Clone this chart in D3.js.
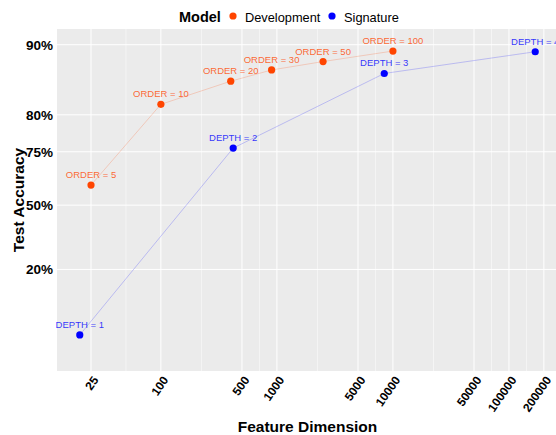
<!DOCTYPE html>
<html>
<head>
<meta charset="utf-8">
<script src="https://cdn.jsdelivr.net/npm/d3@7"></script>
<style>
  body { margin: 0; background: #fff; }
  svg { display: block; font-family: "Liberation Sans", Arial, sans-serif; }
</style>
</head>
<body>
<svg></svg>
<script>
// development model: signature order, feature dimension, accuracy
const devOrder = [5, 10, 20, 30, 50, 100];
const devDim = [25, 100, 400, 900, 2500, 10000];
const devAcc = [0.594, 0.815, 0.848, 0.864, 0.876, 0.891];

// signature model: depth, feature dimension, accuracy
const sigDepth = [1, 2, 3, 4];
const sigDim = [20, 420, 8420, 168420];
const sigAcc = [0.071, 0.755, 0.859, 0.890];

const xTicks = [25, 100, 500, 1000, 5000, 10000, 50000, 100000, 200000];
const yTicks = [0.2, 0.5, 0.75, 0.8, 0.9];
const yTickLabels = ["20%", "50%", "75%", "80%", "90%"];

const models = ["Development", "Signature"];
const modelColors = ["#FF4500", "#0000FF"];

function main() {
    const width = 556, height = 435;
    const left = 57, top = 29, right = 558, bottom = 371;
    const ph = bottom - top;

    const svg = d3.select("svg").attr("width", width).attr("height", height);

    // log x with 5% expansion like ggplot
    const allDim = devDim.concat(sigDim);
    const lo = Math.log10(d3.min(allDim)), hi = Math.log10(d3.max(allDim));
    const pad = (hi - lo) * 0.05;
    const x = d3.scaleLog()
        .domain([Math.pow(10, lo - pad), Math.pow(10, hi + pad)])
        .range([left, right]);

    // y axis uses uneven breaks, so a piecewise scale
    const yBreaks = [0].concat(yTicks);
    const yFrac = [0, 0.297, 0.485, 0.641, 0.749, 0.954];
    const y = d3.scaleLinear()
        .domain(yBreaks)
        .range(yFrac.map(f => bottom - f * ph));

    svg.append("rect")
        .attr("x", left).attr("y", top)
        .attr("width", right - left).attr("height", ph)
        .attr("fill", "#EBEBEB");

    // minor grid: midpoints between majors in log space
    const minor = [];
    for (let i = 0; i < xTicks.length - 1; i++) {
        minor.push(Math.sqrt(xTicks[i] * xTicks[i + 1]));
    }
    svg.append("g").selectAll("line").data(minor).join("line")
        .attr("x1", d => x(d)).attr("x2", d => x(d))
        .attr("y1", top).attr("y2", bottom)
        .attr("stroke", "#fff").attr("stroke-width", 0.5);

    svg.append("g").selectAll("line").data(xTicks).join("line")
        .attr("x1", d => x(d)).attr("x2", d => x(d))
        .attr("y1", top).attr("y2", bottom)
        .attr("stroke", "#fff").attr("stroke-width", 1);

    svg.append("g").selectAll("line").data(yTicks).join("line")
        .attr("x1", left).attr("x2", right)
        .attr("y1", d => y(d)).attr("y2", d => y(d))
        .attr("stroke", "#fff").attr("stroke-width", 1);

    // axes
    const xAxis = svg.append("g")
        .attr("transform", `translate(0,${bottom})`)
        .call(d3.axisBottom(x).tickValues(xTicks).tickFormat(d3.format("d")).tickSize(0));
    xAxis.select(".domain").remove();
    xAxis.selectAll("text")
        .attr("font-size", 12).attr("font-weight", "bold").attr("fill", "#000")
        .attr("font-family", "Liberation Sans, Arial, sans-serif")
        .attr("text-anchor", "end")
        .attr("x", 0).attr("y", 0).attr("dy", 0)
        .attr("transform", "translate(7.5,9) rotate(-55)");

    const yAxis = svg.append("g")
        .attr("transform", `translate(${left},0)`)
        .call(d3.axisLeft(y).tickValues(yTicks).tickFormat((d, i) => yTickLabels[i]).tickSize(0).tickPadding(4));
    yAxis.select(".domain").remove();
    yAxis.selectAll("text")
        .attr("font-size", 13.5).attr("font-weight", "bold").attr("fill", "#000")
        .attr("font-family", "Liberation Sans, Arial, sans-serif");

    svg.append("text")
        .attr("x", (left + right) / 2).attr("y", 432)
        .attr("text-anchor", "middle")
        .attr("font-size", 15.5).attr("font-weight", "bold")
        .text("Feature Dimension");

    svg.append("text")
        .attr("transform", `translate(24,${(top + bottom) / 2}) rotate(-90)`)
        .attr("text-anchor", "middle")
        .attr("font-size", 15.5).attr("font-weight", "bold")
        .text("Test Accuracy");

    const series = [
        {name: models[0], color: modelColors[0],
         pts: devDim.map((d, i) => ({dim: d, acc: devAcc[i], label: `ORDER = ${devOrder[i]}`}))},
        {name: models[1], color: modelColors[1],
         pts: sigDim.map((d, i) => ({dim: d, acc: sigAcc[i], label: `DEPTH = ${sigDepth[i]}`}))}
    ];

    const line = d3.line().x(d => x(d.dim)).y(d => y(d.acc));

    series.forEach(s => {
        svg.append("path")
            .datum(s.pts)
            .attr("d", line)
            .attr("fill", "none")
            .attr("stroke", s.color)
            .attr("stroke-opacity", 0.3)
            .attr("stroke-width", 0.7);

        svg.append("g").selectAll("circle").data(s.pts).join("circle")
            .attr("cx", d => x(d.dim)).attr("cy", d => y(d.acc))
            .attr("r", 3.6)
            .attr("fill", s.color);

        svg.append("g").selectAll("text").data(s.pts).join("text")
            .attr("x", d => x(d.dim)).attr("y", d => y(d.acc) - 7)
            .attr("text-anchor", "middle")
            .attr("font-size", 9.5)
            .attr("fill", s.color).attr("fill-opacity", 0.8)
            .text(d => d.label);
    });

    // legend
    const lg = svg.append("g");
    lg.append("text").attr("x", 179).attr("y", 22)
        .attr("font-size", 14.5).attr("font-weight", "bold").text("Model");
    const keyX = [233, 332];
    models.forEach((m, i) => {
        lg.append("circle").attr("cx", keyX[i]).attr("cy", 16).attr("r", 3.6).attr("fill", modelColors[i]);
        lg.append("text").attr("x", keyX[i] + 12).attr("y", 21.5)
            .attr("font-size", 12.8).text(m);
    });
}

main();
</script>
</body>
</html>
